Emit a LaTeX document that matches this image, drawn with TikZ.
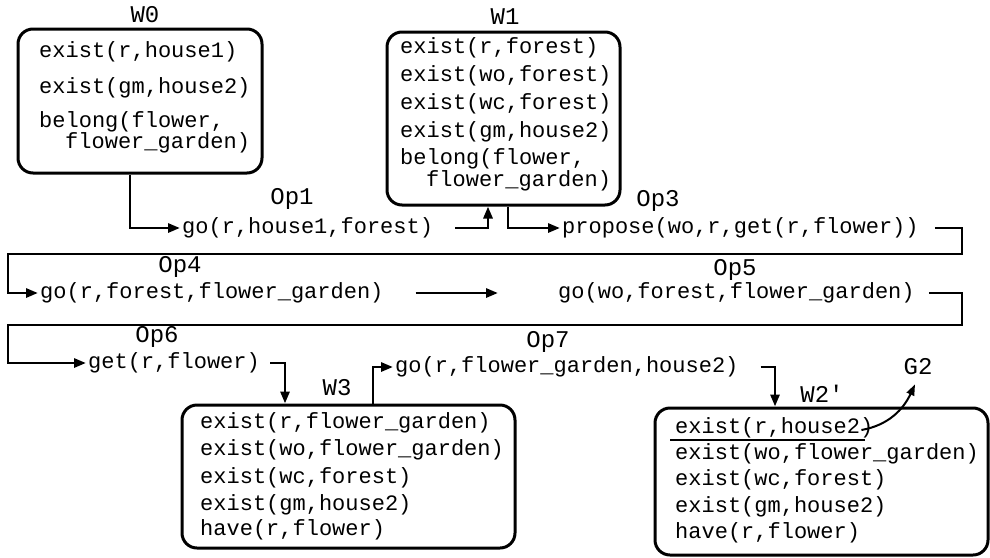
\documentclass[tikz,border=0pt]{standalone}
\usepackage{fontspec}
\newfontfamily\mono{Liberation Mono}
\usetikzlibrary{arrows.meta}
\begin{document}
\begin{tikzpicture}[x=1pt,y=-1pt,
  txt/.style={font=\mono\fontsize{22}{24}\selectfont, inner sep=0pt, anchor=west},
  lab/.style={font=\mono\fontsize{24}{26}\selectfont, inner sep=0pt},
  wbox/.style={draw, line width=3pt, rounded corners=15pt, inner sep=0pt},
  conn/.style={line width=2.8pt, -{Triangle[length=12pt,width=9pt]}},
]
\useasboundingbox (0,0) rectangle (990,557);
% ---- boxes
\node[wbox, minimum width=244pt, minimum height=144pt] (W0) at (140,101) {};
\node[wbox, minimum width=233pt, minimum height=173pt] (W1) at (503.5,118.5) {};
\node[wbox, minimum width=333pt, minimum height=143pt] (W3) at (348.5,476.5) {};
\node[wbox, minimum width=333pt, minimum height=147pt] (W2) at (821.5,481.5) {};
% ---- box labels
\node[lab] (w0lab) at (145,15) {W0};
\node[lab] (w1lab) at (505,17) {W1};
\node[lab] (w3lab) at (337,388) {W3};
\node[lab] (w2lab) at (822,394) {W2'};
\node[lab] (G2) at (918,367) {G2};
% ---- W0 contents
\node[txt] (w0a) at (39,52) {exist(r,house1)};
\node[txt] (w0b) at (39,88) {exist(gm,house2)};
\node[txt] (w0c) at (39,122) {belong(flower,};
\node[txt] (w0d) at (65,143) {flower\_garden)};
% ---- W1 contents
\node[txt] (w1a) at (400,48) {exist(r,forest)};
\node[txt] (w1b) at (400,76) {exist(wo,forest)};
\node[txt] (w1c) at (400,104) {exist(wc,forest)};
\node[txt] (w1d) at (400,132) {exist(gm,house2)};
\node[txt] (w1e) at (400,159) {belong(flower,};
\node[txt] (w1f) at (426,181) {flower\_garden)};
% ---- W3 contents
\node[txt] (w3a) at (200,423) {exist(r,flower\_garden)};
\node[txt] (w3b) at (200,450) {exist(wo,flower\_garden)};
\node[txt] (w3c) at (200,478) {exist(wc,forest)};
\node[txt] (w3d) at (200,505) {exist(gm,house2)};
\node[txt] (w3e) at (200,530) {have(r,flower)};
% ---- W2' contents
\node[txt] (w2a) at (675,428) {exist(r,house2)};
\node[txt] (w2b) at (675,454) {exist(wo,flower\_garden)};
\node[txt] (w2c) at (675,480) {exist(wc,forest)};
\node[txt] (w2d) at (675,507) {exist(gm,house2)};
\node[txt] (w2e) at (675,533) {have(r,flower)};
% ---- operators
\node[lab] (op1lab) at (292,199) {Op1};
\node[txt] (op1) at (182,228) {go(r,house1,forest)};
\node[lab] (op3lab) at (658,201) {Op3};
\node[txt] (op3) at (562,228) {propose(wo,r,get(r,flower))};
\node[lab] (op4lab) at (180,267) {Op4};
\node[txt] (op4) at (40,293) {go(r,forest,flower\_garden)};
\node[lab] (op5lab) at (735,270) {Op5};
\node[txt] (op5) at (558,293) {go(wo,forest,flower\_garden)};
\node[lab] (op6lab) at (157,337) {Op6};
\node[txt] (op6) at (88,363) {get(r,flower)};
\node[lab] (op7lab) at (548,342) {Op7};
\node[txt] (op7) at (395,367) {go(r,flower\_garden,house2)};
% ---- turn points
\coordinate (r1) at (962,254);
\coordinate (l1) at (8,254);
\coordinate (r2) at (962,325);
\coordinate (l2) at (8,325);
% ---- connectors
\draw[conn] ([xshift=-10pt]W0.south) |- ([xshift=-2pt]op1.west);
\draw[conn] ([xshift=22pt]op1.east) -| ([xshift=-15.5pt]W1.south);
\draw[conn] ([xshift=4.5pt]W1.south) |- ([xshift=-2pt]op3.west);
\draw[conn] ([xshift=16pt]op3.east) -| (r1) -- (l1) |- ([xshift=-2pt]op4.west);
\draw[conn] ([xshift=32pt]op4.east) -- ([xshift=-60pt]op5.west);
\draw[conn] ([xshift=14pt]op5.east) -| (r2) -- (l2) |- ([xshift=-2pt]op6.west);
\draw[conn] ([xshift=10pt]op6.east) -| ([xshift=-63.5pt]W3.north);
\draw[conn] ([xshift=24.5pt]W3.north) |- ([xshift=-2pt]op7.west);
\draw[conn] ([xshift=22pt]op7.east) -| ([xshift=-46.5pt]W2.north);
% ---- goal link
\draw[line width=2.6pt] ([xshift=-5pt,yshift=-1.5pt]w2a.south west) -- ([xshift=-8pt,yshift=-1.5pt]w2a.south east);
\draw[line width=2pt, -{Triangle[length=11pt,width=8pt]}] ([xshift=-12pt,yshift=-2pt]w2a.east) to[out=10,in=-115] ([xshift=-3pt,yshift=-9pt]G2.south);
\end{tikzpicture}
\end{document}
